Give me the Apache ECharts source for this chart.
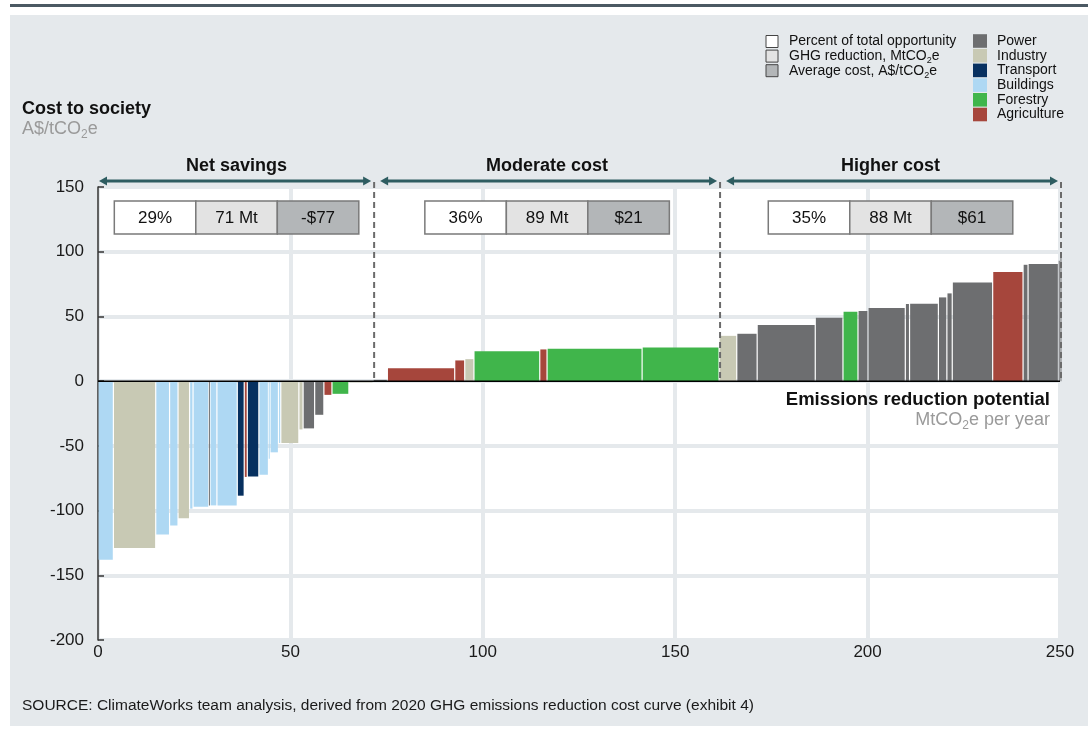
<!DOCTYPE html>
<html>
<head>
<meta charset="utf-8">
<script src="https://cdn.jsdelivr.net/npm/echarts@6/dist/echarts.min.js"></script>
<style>
html,body{margin:0;padding:0;background:#fff;}
#chart{width:1088px;height:729px;}
</style>
</head>
<body>
<div id="chart"></div>
<script>
// ---- Data ----
const barWidths = [4.0, 11.0, 3.6, 2.2, 3.0, 0.9, 4.1, 0.3, 1.8, 5.3, 1.8, 0.8, 3.0, 2.5, 0.4, 2.2, 0.6, 4.7, 1.1, 3.0, 2.4, 2.1, 4.4, 6.3,
  3.7, 17.5, 2.6, 2.4, 17.1, 1.9, 24.7, 20.0,
  4.6, 5.3, 15.1, 7.2, 3.9, 2.6, 9.7, 1.1, 7.5, 2.2, 1.4, 10.5, 7.9, 1.3, 7.9, 0.4, 0.5];
const barCosts = [-138, -129, -118.5, -111.5, -106, -98.5, -97, -96, -96, -96, -88.5, -74, -73.7, -72.4, -60, -55, -47.7, -47.7, -37.3, -36.5, -26, -10.6, -9.8, -1,
  1, 10, 16, 17, 23, 24.5, 25, 26,
  35, 36.6, 43.4, 49, 53.6, 54.2, 56.5, 59.6, 59.8, 64.7, 67.8, 76.3, 84.3, 89.9, 90.5, 93, 97.5];
const barSectors = ['Buildings','Industry','Buildings','Buildings','Industry','Buildings','Buildings','Power','Buildings','Buildings','Transport','Agriculture','Transport','Buildings','Buildings','Buildings','Buildings','Industry','Industry','Power','Power','Agriculture','Forestry','Industry',
  'Power','Agriculture','Agriculture','Industry','Forestry','Agriculture','Forestry','Forestry',
  'Industry','Power','Power','Power','Forestry','Power','Power','Power','Power','Power','Power','Power','Agriculture','Power','Power','Power','Power'];
const sectorNames = ['Power','Industry','Transport','Buildings','Forestry','Agriculture'];
const sectorColors = ['#6d6e70','#c8c9b4','#07305f','#aed8f3','#40b54b','#a6463c'];
const sectionNames = ['Net savings','Moderate cost','Higher cost'];
const sectionBounds = [0, 71.5, 161.4, 250];
const sectionShare = ['29%','36%','35%'];
const sectionVolume = ['71 Mt','89 Mt','88 Mt'];
const sectionCost = ['-$77','$21','$61'];
const boxLegend = [['Percent of total opportunity'], ['GHG reduction, MtCO', 'e'], ['Average cost, A$/tCO', 'e']];
const xTicks = [0, 50, 100, 150, 200, 250];
const yTicks = [-200, -150, -100, -50, 0, 50, 100, 150];

// ---- Build ----
const FONT = '"Liberation Sans", Arial, sans-serif';
const boxFills = ['#ffffff','#e3e3e3','#b3b6b8'];
let acc = 0;
const barData = barWidths.map((w, i) => {
  const start = acc; acc += w;
  return [start, acc, barCosts[i], sectorNames.indexOf(barSectors[i])];
});

const chart = echarts.init(document.getElementById('chart'), null, {renderer: 'canvas'});

const option = {
  animation: false,
  backgroundColor: '#ffffff',
  grid: {left: 98, right: 28, top: 187, bottom: 89, show: true, backgroundColor: '#ffffff', borderWidth: 0},
  xAxis: {
    type: 'value', min: xTicks[0], max: xTicks[xTicks.length - 1], interval: 50,
    axisLine: {show: false}, axisTick: {show: false},
    axisLabel: {fontSize: 17, color: '#1a1a1a', fontFamily: FONT, margin: 4},
    splitLine: {show: true, lineStyle: {color: '#e5e9ec', width: 4}}
  },
  yAxis: {
    type: 'value', min: yTicks[0], max: yTicks[yTicks.length - 1], interval: 50,
    axisLine: {show: true, onZero: false, lineStyle: {color: '#333', width: 1.5}},
    axisTick: {show: true, inside: true, length: 6, lineStyle: {color: '#333', width: 1.5}},
    axisLabel: {fontSize: 17, color: '#1a1a1a', fontFamily: FONT, margin: 14},
    splitLine: {show: true, lineStyle: {color: '#e5e9ec', width: 4}}
  },
  series: [{
    type: 'custom',
    clip: false,
    data: barData,
    encode: {x: [0, 1], y: 2},
    renderItem: function (params, api) {
      const x0 = api.value(0), x1 = api.value(1), v = api.value(2);
      const p0 = api.coord([x0, 0]);
      const p1 = api.coord([x1, v]);
      let left = p0[0] + 0.6, right = p1[0] - 0.6;
      if (right - left < 1) { const c = (p0[0] + p1[0]) / 2; left = c - 0.5; right = c + 0.5; }
      const top = Math.min(p0[1], p1[1]);
      const h = Math.max(Math.abs(p1[1] - p0[1]), 1);
      return {
        type: 'rect',
        shape: {x: left, y: top, width: right - left, height: h},
        style: {fill: sectorColors[api.value(3)]}
      };
    }
  }]
};
chart.setOption(option);

// rich text helper for CO2 subscript
function subText(x, y, parts, size, color, align) {
  const sub = Math.round(size * 0.65);
  const lh = Math.round(size * 1.25);
  const text = parts.length > 1 ? '{n|' + parts[0] + '}{s|2}{n|' + parts[1] + '}' : '{n|' + parts[0] + '}';
  return {type: 'text', z: 50, style: {
    x: x, y: y, text: text, align: align || 'left', verticalAlign: 'middle',
    rich: {
      n: {fontSize: size, fontFamily: FONT, fill: color, lineHeight: lh, verticalAlign: 'middle'},
      s: {fontSize: sub, fontFamily: FONT, fill: color, lineHeight: sub, verticalAlign: 'bottom'}
    }
  }};
}

// ---- Annotations (positions derived from axes) ----
const px = (x, y) => chart.convertToPixel({xAxisIndex: 0, yAxisIndex: 0}, [x, y]);
const plotTop = px(0, yTicks[yTicks.length - 1])[1];
const zeroY = px(0, 0)[1];
const els = [];

// page decoration
els.push({type: 'rect', z: -10, silent: true, shape: {x: 10, y: 15, width: 1078, height: 711}, style: {fill: '#e5e9ec'}});
els.push({type: 'rect', z: -10, silent: true, shape: {x: 10, y: 4, width: 1078, height: 3}, style: {fill: '#4b5963'}});

// zero line
els.push({type: 'line', z: 50, shape: {x1: px(0,0)[0], y1: zeroY, x2: px(250,0)[0], y2: zeroY}, style: {stroke: '#000', lineWidth: 1.5}});

const arrowY = plotTop - 6;
const arrowColor = '#2e5d61';
for (let i = 0; i < 3; i++) {
  const a = px(sectionBounds[i], 0)[0];
  const b = px(sectionBounds[i + 1], 0)[0];
  const l = a + (i === 0 ? 1 : 7);
  const r = b - 2;
  els.push({type: 'line', z: 50, shape: {x1: l + 4, y1: arrowY, x2: r - 4, y2: arrowY}, style: {stroke: arrowColor, lineWidth: 3}});
  els.push({type: 'polygon', z: 50, shape: {points: [[l, arrowY], [l + 8, arrowY - 4.5], [l + 8, arrowY + 4.5]]}, style: {fill: arrowColor}});
  els.push({type: 'polygon', z: 50, shape: {points: [[r, arrowY], [r - 8, arrowY - 4.5], [r - 8, arrowY + 4.5]]}, style: {fill: arrowColor}});
  els.push({type: 'text', z: 50, style: {x: (a + b) / 2 + 1, y: plotTop - 21, text: sectionNames[i], fill: '#111', font: 'bold 18px ' + FONT, align: 'center', verticalAlign: 'middle'}});
  // dashed separator
  els.push({type: 'line', z: 40, shape: {x1: b + 1, y1: plotTop - 5, x2: b + 1, y2: zeroY}, style: {stroke: '#6b6b6b', lineWidth: 2, lineDash: [6, 4]}});
  // summary boxes
  const cw = 81.5, bw = cw * 3;
  const bx = (a + b) / 2 - bw / 2 + 1;
  const by = plotTop + 14, bh = 33;
  const texts = [sectionShare[i], sectionVolume[i], sectionCost[i]];
  for (let k = 0; k < 3; k++) {
    els.push({type: 'rect', z: 45, shape: {x: bx + k * cw, y: by, width: cw, height: bh}, style: {fill: boxFills[k], stroke: '#7a7a7a', lineWidth: 1.5}});
    els.push({type: 'text', z: 46, style: {x: bx + k * cw + cw / 2, y: by + bh / 2 + 1, text: texts[k], fill: '#111', font: '17px ' + FONT, align: 'center', verticalAlign: 'middle'}});
  }
}

// axis titles
els.push({type: 'text', style: {x: 22, y: 109, text: 'Cost to society', fill: '#111', font: 'bold 18px ' + FONT, verticalAlign: 'middle'}});
els.push(subText(22, 129, ['A$/tCO', 'e'], 18, '#9a9a9a'));
els.push({type: 'text', z: 50, style: {x: 1050, y: 400, text: 'Emissions reduction potential', fill: '#111', font: 'bold 18.5px ' + FONT, align: 'right', verticalAlign: 'middle'}});
els.push(subText(1050, 420, ['MtCO', 'e per year'], 18, '#9a9a9a', 'right'));
els.push({type: 'text', style: {x: 22, y: 706, text: 'SOURCE: ClimateWorks team analysis, derived from 2020 GHG emissions reduction cost curve (exhibit 4)', fill: '#1a1a1a', font: '15.5px ' + FONT, verticalAlign: 'middle'}});

// legends
for (let k = 0; k < boxLegend.length; k++) {
  const y = 41.5 + k * 14.6;
  els.push({type: 'rect', shape: {x: 766, y: y - 6, width: 12, height: 12}, style: {fill: boxFills[k], stroke: '#444', lineWidth: 1}});
  els.push(subText(789, y, boxLegend[k], 14, '#111'));
}
for (let k = 0; k < sectorNames.length; k++) {
  const y = 41 + k * 14.7;
  els.push({type: 'rect', shape: {x: 973, y: y - 6.8, width: 14, height: 13.6}, style: {fill: sectorColors[k]}});
  els.push({type: 'text', style: {x: 997, y: y, text: sectorNames[k], fill: '#111', font: '14px ' + FONT, verticalAlign: 'middle'}});
}

chart.setOption({graphic: {elements: els}});
</script>
</body>
</html>
